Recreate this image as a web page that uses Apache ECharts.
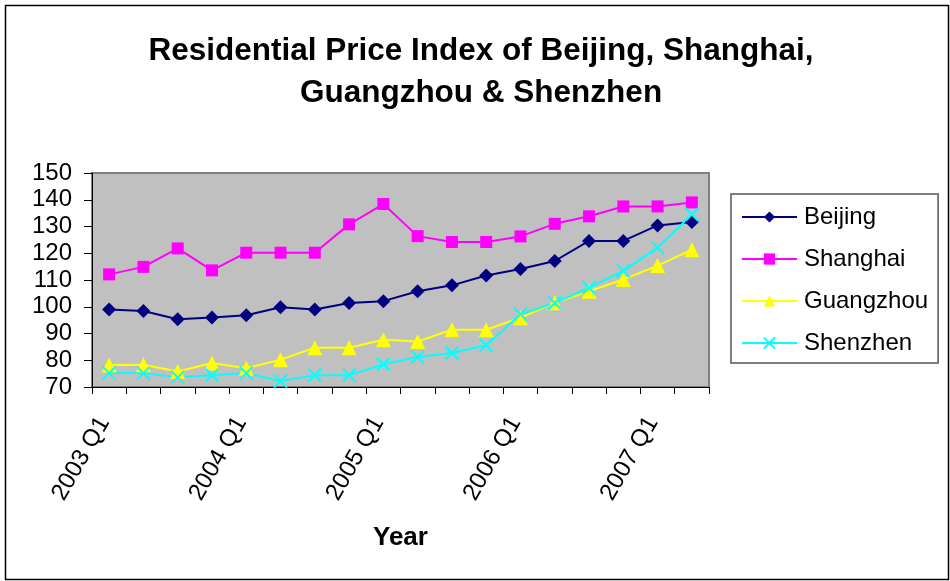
<!DOCTYPE html>
<html>
<head>
<meta charset="utf-8">
<script src="https://cdn.jsdelivr.net/npm/echarts@6/dist/echarts.min.js"></script>
<style>html,body{margin:0;padding:0;background:#fff}#c{width:950px;height:581px}</style>
</head>
<body>
<div id="c"></div>
<script>
var categories = ['2003 Q1','2003 Q2','2003 Q3','2003 Q4','2004 Q1','2004 Q2','2004 Q3','2004 Q4','2005 Q1','2005 Q2','2005 Q3','2005 Q4','2006 Q1','2006 Q2','2006 Q3','2006 Q4','2007 Q1','2007 Q2'];
var beijing   = [99.0, 98.4, 95.3, 96.0, 96.8, 99.8, 99.0, 101.4, 102.1, 105.8, 108.0, 111.7, 114.1, 117.1, 124.6, 124.6, 130.4, 131.7];
var shanghai  = [112.1, 114.9, 121.8, 113.6, 120.2, 120.2, 120.2, 130.8, 138.4, 126.4, 124.2, 124.2, 126.3, 131.0, 133.8, 137.5, 137.5, 139.0];
var guangzhou = [78.2, 78.3, 75.8, 79.0, 77.0, 80.2, 84.7, 84.7, 87.7, 87.0, 91.4, 91.4, 95.9, 101.5, 105.8, 110.2, 115.4, 121.3];
var shenzhen  = [75.2, 75.2, 73.6, 74.4, 75.2, 72.2, 74.4, 74.4, 78.5, 81.2, 82.7, 85.6, 97.2, 101.4, 107.1, 113.4, 122.1, 134.5];
var seriesNames = ['Beijing','Shanghai','Guangzhou','Shenzhen'];
var titleText = 'Residential Price Index of Beijing, Shanghai,\nGuangzhou & Shenzhen';
var xName = 'Year';

var chart = echarts.init(document.getElementById('c'), null, {renderer:'canvas'});
var font = 'Liberation Sans, Arial, sans-serif';
var crossPath = 'path://M0,0L10,10M10,0L0,10';
function mk(name, data, color, symbol, size, extra) {
  var s = {
    name: name, type: 'line', data: data, symbol: symbol, symbolSize: size,
    lineStyle: {color: color, width: 2}, itemStyle: {color: color},
    animation: false, z: 3
  };
  if (extra) Object.assign(s.itemStyle, extra);
  return s;
}
chart.setOption({
  backgroundColor: '#ffffff',
  animation: false,
  title: {
    text: titleText, left: 476, top: 25, textAlign: 'center',
    textStyle: {fontFamily: font, fontSize: 31.5, fontWeight: 'bold', color: '#000', lineHeight: 42}
  },
  legend: {
    orient: 'vertical', left: 731, top: 194,
    padding: [11, 10, 8, 10],
    itemGap: 18, itemWidth: 55, itemHeight: 14,
    borderColor: '#555', borderWidth: 1.5,
    textStyle: {fontFamily: font, fontSize: 24, color: '#000', padding: [0,0,0,2]},
    data: seriesNames
  },
  grid: {left: 92, right: 241, top: 173, bottom: 194, show: true, backgroundColor: '#C0C0C0', borderColor: '#808080', borderWidth: 2},
  xAxis: {
    type: 'category', data: categories, boundaryGap: true,
    axisLine: {show: true, lineStyle: {color: '#000', width: 1}},
    axisTick: {show: true, interval: 0, length: 7, lineStyle: {color: '#000'}},
    axisLabel: {interval: 3, rotate: 60, fontFamily: font, fontSize: 24, color: '#000', margin: 23, padding: [0, 10, 0, 0]},
    splitLine: {show: false}
  },
  yAxis: {
    type: 'value', min: 70, max: 150, interval: 10,
    axisLine: {show: true, lineStyle: {color: '#000', width: 1}},
    axisTick: {show: true, length: 8, lineStyle: {color: '#000'}},
    axisLabel: {fontFamily: font, fontSize: 24, color: '#000', margin: 20},
    splitLine: {show: false}
  },
  graphic: [
    {type: 'rect', left: 3, top: 3, shape: {width: 943, height: 574}, style: {fill: 'none', stroke: '#000', lineWidth: 1.5}, z: -1},
    {type: 'text', left: 373, top: 525, style: {text: xName, font: 'bold 26px ' + font, fill: '#000'}}
  ],
  series: [
    mk(seriesNames[0], beijing, '#000080', 'diamond', 14),
    mk(seriesNames[1], shanghai, '#FF00FF', 'rect', 12),
    mk(seriesNames[2], guangzhou, '#FFFF00', 'triangle', 15),
    mk(seriesNames[3], shenzhen, '#00FFFF', crossPath, 13, {borderColor: '#00FFFF', borderWidth: 2})
  ]
});
</script>
</body>
</html>
